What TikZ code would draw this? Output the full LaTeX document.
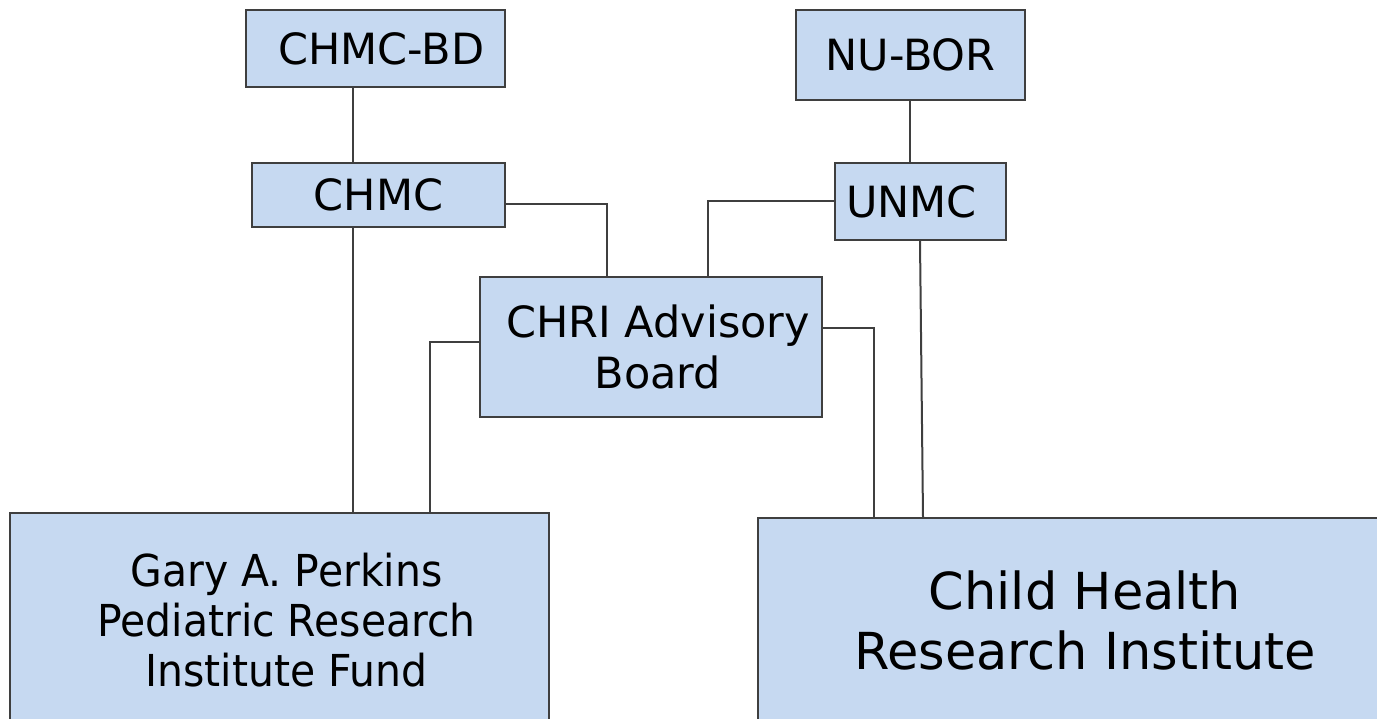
\documentclass[tikz,border=0pt]{standalone}
\usepackage{fontspec}
\setmainfont{DejaVu Sans}
\newfontfamily\garyfont[FakeStretch=0.93]{DejaVu Sans}
\definecolor{boxfill}{HTML}{C6D9F1}
\definecolor{edge}{HTML}{3F3F3F}
\begin{document}
\begin{tikzpicture}[x=0.5pt,y=-0.5pt,
  box/.style={draw=edge, line width=1pt, fill=boxfill, inner sep=0pt, align=center,
    font=\fontsize{21.5}{25.5}\selectfont},
  link/.style={draw=edge, line width=1pt}]
\useasboundingbox (0,0) rectangle (1377,718);
\begin{scope}
\clip (0,0) rectangle (1377,718);
% boxes
\node[box, minimum width=129.5pt, minimum height=38.5pt] (chmcbd) at (375.5,48.5) {\hspace*{6pt}CHMC-BD};
\node[box, minimum width=114.5pt, minimum height=45pt] (nubor) at (910.5,55) {NU-BOR};
\node[box, minimum width=126.5pt, minimum height=32pt] (chmc) at (378.5,195) {CHMC};
\node[box, minimum width=85.5pt, minimum height=38.5pt] (unmc) at (920.5,201.5) {UNMC\hspace*{9pt}};
\node[box, minimum width=171pt, minimum height=70pt] (chri) at (651,347)
  {\hspace*{7pt}CHRI Advisory\\\hspace*{7pt}Board};
\node[box, minimum width=269.5pt, minimum height=107pt, font=\garyfont\fontsize{22}{25}\selectfont] (gary) at (279.5,620)
  {\hspace*{7pt}Gary A. Perkins\\\hspace*{7pt}Pediatric Research\\\hspace*{7pt}Institute Fund};
\node[box, minimum width=327pt, minimum height=102pt, font=\fontsize{25.5}{30}\selectfont] (child) at (1085,620)
  {Child Health\\Research Institute};
% helper coordinates
\coordinate (xL) at (353,0);
\coordinate (xN) at (910,0);
\coordinate (pA) at (607,204);
\coordinate (pB) at (708,201);
\coordinate (pC) at (430,342);
\coordinate (pD) at (874,328);
\coordinate (pE) at (920,0);
\coordinate (pF) at (923,0);
% connectors
\draw[link] (chmcbd.south -| xL) -- (chmc.north -| xL);
\draw[link] (nubor.south -| xN) -- (unmc.north -| xN);
\draw[link] (chmc.east |- pA) -- (pA) -- (chri.north -| pA);
\draw[link] (unmc.west |- pB) -- (pB) -- (chri.north -| pB);
\draw[link] (chmc.south -| xL) -- (gary.north -| xL);
\draw[link] (chri.west |- pC) -- (pC) -- (gary.north -| pC);
\draw[link] (chri.east |- pD) -- (pD) -- (child.north -| pD);
\draw[link] (unmc.south -| pE) -- (child.north -| pF);
\end{scope}
\end{tikzpicture}
\end{document}
